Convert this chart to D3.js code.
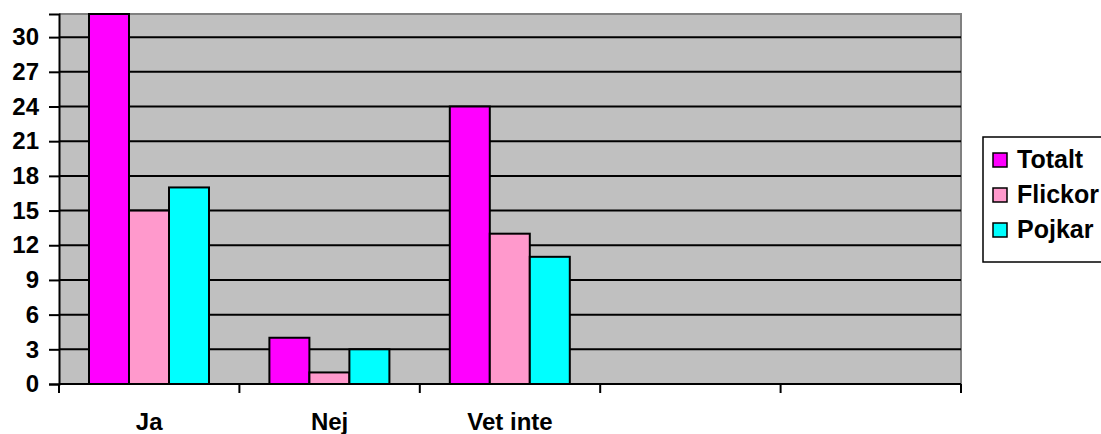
<!DOCTYPE html>
<html lang="sv">
<head>
<meta charset="utf-8" />
<title>Chart</title>
<script src="https://d3js.org/d3.v7.min.js"></script>
<style>
  body { margin: 0; background: #fff; }
  text { font-family: "Liberation Sans", Arial, sans-serif; font-weight: bold; }
</style>
</head>
<body>
<svg></svg>
<script>
const categories = ["Ja", "Nej", "Vet inte", "c4", "c5"];
const categoryLabels = ["Ja", "Nej", "Vet inte", "", ""];
const seriesNames = ["Totalt", "Flickor", "Pojkar"];
const totalt = [32, 4, 24, null, null];
const flickor = [15, 1, 13, null, null];
const pojkar = [17, 3, 11, null, null];
const yTicks = [0, 3, 6, 9, 12, 15, 18, 21, 24, 27, 30];
const colors = ["#FF00FF", "#FF99CC", "#00FFFF"];

const width = 1101, height = 434;
const svg = d3.select("svg").attr("width", width).attr("height", height);

const plotLeft = 59, plotRight = 961, plotTop = 14, plotBottom = 384;

const x0 = d3.scaleBand().domain(categories).range([plotLeft, plotRight]);
const x1 = d3.scaleBand().domain(seriesNames).range([30, 150]);
const y = d3.scaleLinear().domain([0, 32]).range([plotBottom, plotTop]);

// plot background
svg.append("rect")
  .attr("x", plotLeft).attr("y", plotTop)
  .attr("width", plotRight - plotLeft).attr("height", plotBottom - plotTop)
  .attr("fill", "#C0C0C0");
svg.append("path")
  .attr("d", `M${plotLeft},${plotTop}H${plotRight}V${plotBottom}`)
  .attr("fill", "none").attr("stroke", "#808080").attr("stroke-width", 2);

// gridlines
svg.append("g").selectAll("line")
  .data(yTicks.filter(d => d > 0))
  .join("line")
  .attr("x1", plotLeft).attr("x2", plotRight)
  .attr("y1", d => y(d)).attr("y2", d => y(d))
  .attr("stroke", "#000").attr("stroke-width", 2);

// bars
const table = categories.map((c, i) => ({
  cat: c,
  vals: [totalt[i], flickor[i], pojkar[i]]
}));
svg.append("g").selectAll("g")
  .data(table)
  .join("g")
  .attr("transform", d => `translate(${x0(d.cat)},0)`)
  .selectAll("rect")
  .data(d => d.vals.map((v, j) => ({ s: seriesNames[j], v: v, c: colors[j] })).filter(e => e.v != null))
  .join("rect")
  .attr("x", d => x1(d.s))
  .attr("width", x1.bandwidth())
  .attr("y", d => y(d.v))
  .attr("height", d => y(0) - y(d.v))
  .attr("fill", d => d.c)
  .attr("stroke", "#000").attr("stroke-width", 2);

// y axis
const yAxis = svg.append("g")
  .attr("transform", `translate(${plotLeft},0)`)
  .call(d3.axisLeft(y).tickValues(yTicks).tickSize(10).tickPadding(10));
yAxis.selectAll("path, line").attr("stroke", "#000").attr("stroke-width", 2);
yAxis.selectAll("text").attr("font-size", 24).attr("fill", "#000")
  .style("font-family", "'Liberation Sans', Arial, sans-serif");

// x axis
const bounds = categories.map(c => x0(c)).concat([plotRight]);
const xAxis = svg.append("g");
xAxis.append("line")
  .attr("x1", plotLeft).attr("x2", plotRight).attr("y1", plotBottom).attr("y2", plotBottom)
  .attr("stroke", "#000").attr("stroke-width", 2);
xAxis.selectAll(".tk").data(bounds).join("line")
  .attr("x1", d => d).attr("x2", d => d)
  .attr("y1", plotBottom).attr("y2", plotBottom + 9)
  .attr("stroke", "#000").attr("stroke-width", 2);
xAxis.selectAll("text").data(categories).join("text")
  .attr("x", d => x0(d) + x0.bandwidth() / 2)
  .attr("y", 430)
  .attr("text-anchor", "middle")
  .attr("font-size", 24)
  .text((d, i) => categoryLabels[i]);

// legend
const lg = svg.append("g");
lg.append("rect")
  .attr("x", 983).attr("y", 137).attr("width", 130).attr("height", 125)
  .attr("fill", "#fff").attr("stroke", "#000").attr("stroke-width", 1.5);
const items = lg.selectAll("g").data(seriesNames).join("g")
  .attr("transform", (d, i) => `translate(993,${160 + i * 35})`);
items.append("rect")
  .attr("x", 0).attr("y", -7).attr("width", 14).attr("height", 14)
  .attr("fill", (d, i) => colors[i]).attr("stroke", "#000").attr("stroke-width", 1.5);
items.append("text")
  .attr("x", 24).attr("y", 8)
  .attr("font-size", 25)
  .text(d => d);
</script>
</body>
</html>
